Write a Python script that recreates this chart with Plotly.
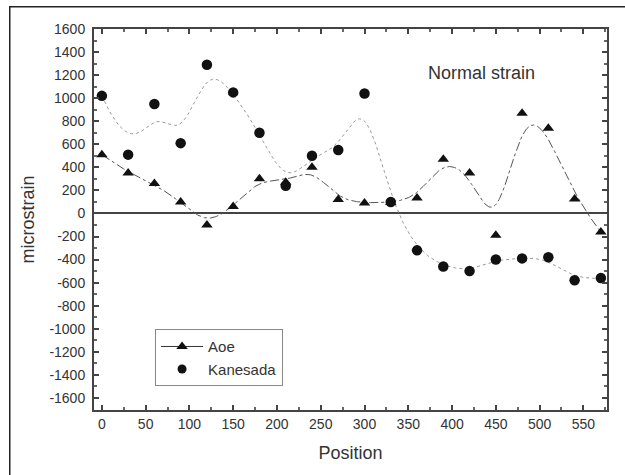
import numpy as np
import plotly.graph_objects as go

# ---- data ----
position = [0, 30, 60, 90, 120, 150, 180, 210, 240, 270,
            300, 330, 360, 390, 420, 450, 480, 510, 540, 570]
aoe = [510, 350, 260, 100, -100, 60, 300, 270, 400, 120,
       90, 95, 135, 470, 350, -190, 870, 740, 125, -160]
kanesada = [1020, 510, 950, 610, 1290, 1050, 700, 240, 500, 550,
            1040, 100, -320, -460, -500, -400, -390, -380, -580, -560]

y_ticks = list(range(-1600, 1601, 200))
y_tick_labels = [str(v) for v in y_ticks]
x_ticks = list(range(0, 551, 50))
x_tick_labels = [str(v) for v in x_ticks]

FONT = "Liberation Sans, Arial, sans-serif"
TXT = "#333333"


def bspline(xs, ys, samples=800):
    """Clamped cubic B-spline connection (as in the original plotting program)."""
    xs = np.asarray(xs, float)
    ys = np.asarray(ys, float)
    n = len(xs)
    k = 3
    knots = np.array([0] * (k + 1) + list(range(1, n - k)) + [n - k] * (k + 1), float)
    t = np.linspace(0, n - k, samples)
    m = len(knots) - 1
    N = np.zeros((samples, m))
    for i in range(m):
        N[:, i] = ((knots[i] <= t) & (t < knots[i + 1])).astype(float)
    last = max(i for i in range(m) if knots[i] < knots[i + 1])
    N[t == knots[-1], last] = 1.0
    for p in range(1, k + 1):
        Nn = np.zeros((samples, m - p))
        for i in range(m - p):
            d1 = knots[i + p] - knots[i]
            d2 = knots[i + p + 1] - knots[i + 1]
            a = (t - knots[i]) / d1 * N[:, i] if d1 > 0 else 0
            b = (knots[i + p + 1] - t) / d2 * N[:, i + 1] if d2 > 0 else 0
            Nn[:, i] = a + b
        N = Nn
    return N @ xs, N @ ys


ax_x, ax_y = bspline(position, aoe)
ka_x, ka_y = bspline(position, kanesada)

fig = go.Figure()

fig.add_trace(go.Scatter(x=ka_x, y=ka_y, mode="lines",
                         line=dict(color="#999999", width=1, dash="dot"),
                         showlegend=False, hoverinfo="skip"))
fig.add_trace(go.Scatter(x=ax_x, y=ax_y, mode="lines",
                         line=dict(color="#555555", width=1, dash="dashdot"),
                         showlegend=False, hoverinfo="skip"))
fig.add_trace(go.Scatter(x=position, y=aoe, mode="markers",
                         marker=dict(symbol="triangle-up", size=10, color="#111111"),
                         showlegend=False))
fig.add_trace(go.Scatter(x=position, y=kanesada, mode="markers",
                         marker=dict(symbol="circle", size=10.5, color="#111111"),
                         showlegend=False))
# legend entries
fig.add_trace(go.Scatter(x=[None], y=[None], mode="lines+markers", name="Aoe",
                         line=dict(color="#333333", width=1),
                         marker=dict(symbol="triangle-up", size=10, color="#111111")))
fig.add_trace(go.Scatter(x=[None], y=[None], mode="markers", name="Kanesada",
                         marker=dict(symbol="circle", size=9, color="#111111")))

axis_common = dict(
    showgrid=False,
    showline=True, linecolor="#444444", linewidth=2, mirror="ticks",
    ticks="inside", ticklen=5, tickwidth=1.5, tickcolor="#444444",
    tickfont=dict(family=FONT, size=14, color=TXT),
)

fig.update_xaxes(range=[-9, 577], tickvals=x_ticks, ticktext=x_tick_labels,
                 minor=dict(dtick=25, ticks="inside", ticklen=3, tickcolor="#666666"),
                 title=dict(text="Position", font=dict(family=FONT, size=18, color=TXT),
                            standoff=16),
                 zeroline=False, **axis_common)
fig.update_yaxes(range=[-1705, 1600], tickvals=y_ticks, ticktext=y_tick_labels,
                 minor=dict(dtick=100, ticks="inside", ticklen=3, tickcolor="#666666"),
                 title=dict(text="microstrain", font=dict(family=FONT, size=18, color=TXT),
                            standoff=10),
                 ticklabelstandoff=4,
                 zeroline=True, zerolinecolor="#444444", zerolinewidth=2, **axis_common)

fig.add_annotation(text="Normal strain", xref="paper", yref="paper",
                   x=0.755, y=0.885, xanchor="center", yanchor="middle", showarrow=False,
                   font=dict(family=FONT, size=18, color=TXT))

# outer frame: only the top and left edges of the surrounding box fall inside the page
fig.add_annotation(text=" ", xref="paper", yref="paper",
                   x=-0.166, y=1.060, xanchor="left", yanchor="top",
                   width=660, height=520, borderpad=0, showarrow=False,
                   bordercolor="#222222", borderwidth=1.5)

fig.update_layout(
    width=625, height=475,
    margin=dict(l=94, r=18, t=29, b=65),
    paper_bgcolor="white", plot_bgcolor="white",
    legend=dict(x=0.119, y=0.212, xanchor="left", yanchor="top",
                bordercolor="#888888", borderwidth=1, bgcolor="white",
                font=dict(family=FONT, size=15, color=TXT),
                itemwidth=42, tracegroupgap=0),
    font=dict(family=FONT),
)

fig.write_html("out.html", config={"displayModeBar": False},
               post_script="document.documentElement.style.overflow='hidden';"
                           "document.body.style.margin='0';document.body.style.overflow='hidden';")
